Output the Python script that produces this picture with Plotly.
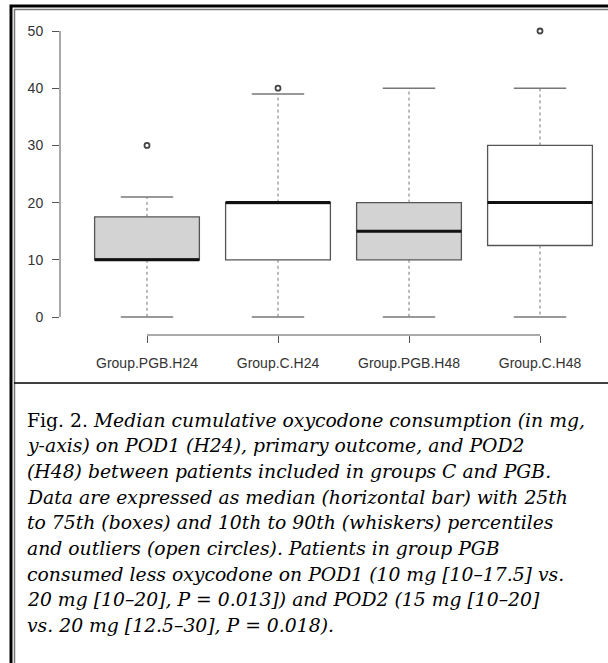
import plotly.graph_objects as go

W, H = 608, 663

# ---- data ----
groups = ["Group.PGB.H24", "Group.C.H24", "Group.PGB.H48", "Group.C.H48"]
lower_whisker = [0, 0, 0, 0]
q1 = [10, 10, 10, 12.5]
median = [10, 20, 15, 20]
q3 = [17.5, 20, 20, 30]
upper_whisker = [21, 39, 40, 40]
outlier_group = [0, 1, 3]
outlier_value = [30, 40, 50]
fill_colors = ["#d3d3d3", "#ffffff", "#d3d3d3", "#ffffff"]
y_ticks = [0, 10, 20, 30, 40, 50]

caption_lines = [
    "Fig. 2. <i>Median cumulative oxycodone consumption (in mg,</i>",
    "<i>y-axis) on POD1 (H24), primary outcome, and POD2</i>",
    "<i>(H48) between patients included in groups C and PGB.</i>",
    "<i>Data are expressed as median (horizontal bar) with 25th</i>",
    "<i>to 75th (boxes) and 10th to 90th (whiskers) percentiles</i>",
    "<i>and outliers (open circles). Patients in group PGB</i>",
    "<i>consumed less oxycodone on POD1 (10 mg [10–17.5] vs.</i>",
    "<i>20 mg [10–20], P = 0.013]) and POD2 (15 mg [10–20]</i>",
    "<i>vs. 20 mg [12.5–30], P = 0.018).</i>",
]

# ---- layout geometry (pixels) ----
px = lambda x: x / W
py = lambda y: 1 - y / H
plot_left, plot_right = 60, 600
plot_top, plot_bottom = 20, 335
y0_px, y50_px = 317, 31
unit = (y0_px - y50_px) / 50.0
yr = [0 - (plot_bottom - y0_px) / unit, 50 + (y50_px - plot_top) / unit]
cx0, step = 147, 131
xr = [0 - (cx0 - plot_left) / step, 3 + (plot_right - (cx0 + 3 * step)) / step]
box_w = 0.80
cap_half = box_w / 4

fig = go.Figure()

box_line = "#555555"
for i in range(len(groups)):
    fig.add_trace(go.Box(
        x=[i], q1=[q1[i]], median=[median[i]], q3=[q3[i]],
        lowerfence=[q1[i]], upperfence=[q3[i]],
        width=box_w, fillcolor=fill_colors[i],
        line=dict(color=box_line, width=1.3),
        boxpoints=False, showlegend=False, hoverinfo="skip",
        whiskerwidth=0,
    ))
    fig.add_trace(go.Scatter(
        x=[i, i, None, i, i], y=[q3[i], upper_whisker[i], None, q1[i], lower_whisker[i]],
        mode="lines", line=dict(color="#777777", width=1, dash="dot"),
        showlegend=False, hoverinfo="skip"))
    fig.add_trace(go.Scatter(
        x=[i - cap_half, i + cap_half, None, i - cap_half, i + cap_half],
        y=[upper_whisker[i], upper_whisker[i], None, lower_whisker[i], lower_whisker[i]],
        mode="lines", line=dict(color="#777777", width=1.5),
        showlegend=False, hoverinfo="skip"))
    fig.add_trace(go.Scatter(
        x=[i - box_w / 2, i + box_w / 2], y=[median[i], median[i]],
        mode="lines", line=dict(color="#111111", width=3),
        showlegend=False, hoverinfo="skip"))

fig.add_trace(go.Scatter(
    x=outlier_group, y=outlier_value, mode="markers",
    marker=dict(symbol="circle-open", size=5, color="#444444", line=dict(width=1.8)),
    showlegend=False, hoverinfo="skip", cliponaxis=False))

shapes = []
shapes.append(dict(type="line", xref="paper", yref="y", x0=px(plot_left), x1=px(plot_left),
                   y0=y_ticks[0], y1=y_ticks[-1], line=dict(color="#555555", width=1)))
shapes.append(dict(type="line", xref="x", yref="paper", x0=0, x1=len(groups) - 1,
                   y0=py(plot_bottom), y1=py(plot_bottom), line=dict(color="#555555", width=1)))
# frame (drawn as paths to the page edge)
shapes.append(dict(type="path", xref="paper", yref="paper",
                   path=f"M {px(11)},0 L {px(11)},{py(6)} L 1.05,{py(6)}",
                   line=dict(color="#000000", width=3)))
shapes.append(dict(type="path", xref="paper", yref="paper",
                   path=f"M {px(14.5)},0 L {px(14.5)},{py(9.5)} L 1.05,{py(9.5)}",
                   line=dict(color="#777777", width=1.5)))
shapes.append(dict(type="line", xref="paper", yref="paper", x0=px(14), x1=1.05, y0=py(383), y1=py(383),
                   line=dict(color="#000000", width=1.5)))

annotations = []
for k, line in enumerate(caption_lines):
    annotations.append(dict(
        text=line, xref="paper", yref="paper", x=px(25), y=py(420 + 25.7 * k),
        xanchor="left", yanchor="middle", showarrow=False, align="left",
        font=dict(family="DejaVu Serif", size=18.8, color="#000000")))

fig.update_layout(
    width=W, height=H, margin=dict(l=0, r=0, t=0, b=0),
    paper_bgcolor="white", plot_bgcolor="white",
    shapes=shapes, annotations=annotations,
    xaxis=dict(domain=[px(plot_left), px(plot_right)], range=xr,
               tickvals=list(range(len(groups))), ticktext=groups,
               showgrid=False, zeroline=False, showline=False,
               ticks="outside", ticklen=7, tickcolor="#555555", tickwidth=1,
               ticklabelstandoff=8,
               tickfont=dict(family="Liberation Sans", size=14, color="#333333")),
    yaxis=dict(domain=[py(plot_bottom), py(plot_top)], range=yr,
               tickvals=y_ticks, showgrid=False, zeroline=False, showline=False,
               ticks="outside", ticklen=7, tickcolor="#555555", tickwidth=1,
               ticklabelstandoff=6,
               tickfont=dict(family="Liberation Sans", size=14, color="#333333")),
)

fig.write_html("out.html", config={"displayModeBar": False},
               post_script="document.body.style.margin='0';document.body.style.overflow='hidden';")
